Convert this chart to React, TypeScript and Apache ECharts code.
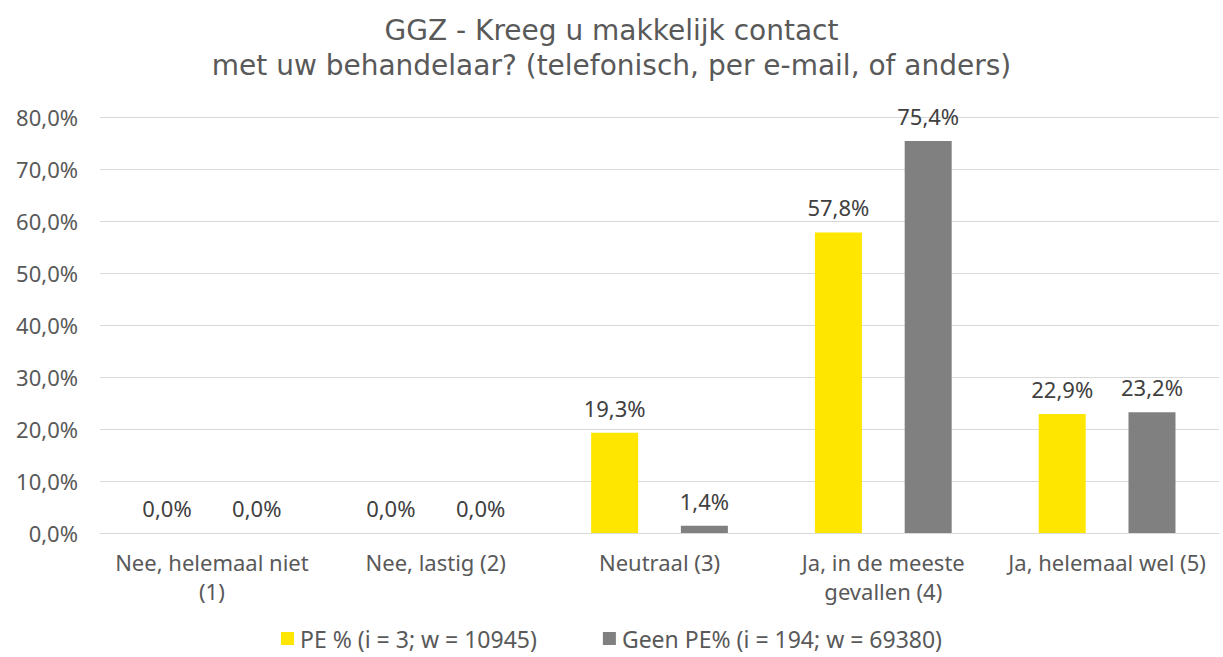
import React, { useEffect, useRef } from "react";
import * as echarts from "echarts";

const titleLines = [
  "GGZ - Kreeg u makkelijk contact",
  "met uw behandelaar? (telefonisch, per e-mail, of anders)",
];
const categories = [
  "Nee, helemaal niet\n(1)",
  "Nee, lastig (2)",
  "Neutraal (3)",
  "Ja, in de meeste\ngevallen (4)",
  "Ja, helemaal wel (5)",
];
const seriesNames = ["PE % (i = 3; w = 10945)", "Geen PE% (i = 194; w = 69380)"];
const peValues = [0.0, 0.0, 19.3, 57.8, 22.9];
const geenPeValues = [0.0, 0.0, 1.4, 75.4, 23.2];
const yTicks = { min: 0, max: 80, interval: 10 };

const fmt = (v: number) => v.toFixed(1).replace(".", ",") + "%";
const FONT = "'Noto Sans', sans-serif";
const TITLE_FONT = "'DejaVu Sans', sans-serif";
const TXT = "#595959";

export default function App() {
  const ref = useRef<HTMLDivElement>(null);
  useEffect(() => {
    if (!ref.current) return;
    const chart = echarts.init(ref.current, null, { renderer: "svg" });
    const labelCfg = {
      show: true,
      position: "top" as const,
      distance: 14,
      formatter: (p: any) => fmt(p.value),
      color: "#404040",
      fontSize: 22,
      fontFamily: FONT,
    };
    chart.setOption({
      animation: false,
      backgroundColor: "#ffffff",
      title: {
        text: titleLines.join("\n"),
        left: "center",
        top: 8,
        textStyle: {
          color: TXT,
          fontSize: 28,
          fontWeight: "normal",
          fontFamily: TITLE_FONT,
          lineHeight: 35,
        },
      },
      legend: {
        bottom: 2,
        left: "center",
        itemWidth: 13,
        itemHeight: 13,
        itemGap: 66,
        icon: "rect",
        textStyle: { color: TXT, fontSize: 23, fontFamily: FONT, padding: [0, 0, 0, 1] },
        data: seriesNames,
      },
      grid: { left: 100, right: 4, top: 117, bottom: 124, containLabel: false },
      xAxis: {
        type: "category",
        data: categories,
        axisLine: { show: true, lineStyle: { color: "#d9d9d9", width: 1 } },
        axisTick: { show: false },
        axisLabel: {
          color: TXT,
          fontSize: 22,
          fontFamily: FONT,
          lineHeight: 29,
          margin: 14,
          interval: 0,
        },
      },
      yAxis: {
        type: "value",
        min: yTicks.min,
        max: yTicks.max,
        interval: yTicks.interval,
        axisLine: { show: false },
        axisTick: { show: false },
        splitLine: { lineStyle: { color: "#d9d9d9", width: 1 } },
        axisLabel: {
          color: TXT,
          fontSize: 22,
          fontFamily: FONT,
          margin: 22,
          formatter: (v: number) => fmt(v),
        },
      },
      series: [
        {
          name: seriesNames[0],
          type: "bar",
          data: peValues,
          barWidth: 47,
          barGap: "91%",
          itemStyle: { color: "#FFE600" },
          label: labelCfg,
        },
        {
          name: seriesNames[1],
          type: "bar",
          data: geenPeValues,
          barWidth: 47,
          barGap: "91%",
          itemStyle: { color: "#808080" },
          label: labelCfg,
        },
      ],
    });
    return () => chart.dispose();
  }, []);
  return (
    <div
      ref={ref}
      style={{ position: "fixed", left: 0, top: 0, width: 1223, height: 657, background: "#fff" }}
    />
  );
}
